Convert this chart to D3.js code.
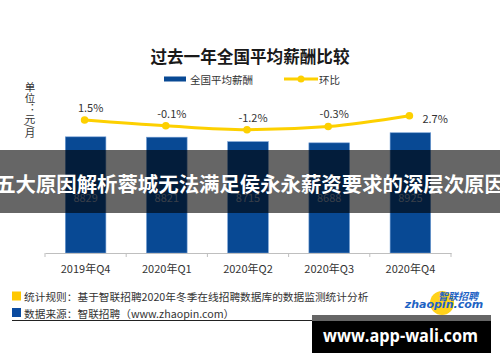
<!DOCTYPE html>
<html>
<head>
<meta charset="utf-8">
<script src="https://cdn.jsdelivr.net/npm/d3@7"></script>
<style>
  body { margin: 0; background: #fff; }
  text { font-family: "Noto Sans CJK SC", "Noto Sans", sans-serif; }
</style>
</head>
<body>
<div id="chart"></div>
<script>
// 資料
const quarters = ['2019年Q4', '2020年Q1', '2020年Q2', '2020年Q3', '2020年Q4']
const salary = [8829, 8821, 8715, 8688, 8925]
const growth = [1.5, -0.1, -1.2, -0.3, 2.7]
const growthLabels = ['1.5%', '-0.1%', '-1.2%', '-0.3%', '2.7%']

function drawChart(){
        const width = 500, height = 362
        const blue = '#084994', yellow = '#fdd000'

        const svg = d3.select('#chart')
                        .append('svg')
                        .attr('width', width)
                        .attr('height', height)

        // 標題
        svg.append('text')
                .attr('x', 250).attr('y', 56)
                .attr('text-anchor', 'middle')
                .attr('dominant-baseline', 'central')
                .style('font-size', '16.6px')
                .style('font-weight', 'bold')
                .attr('fill', '#1a1a1a')
                .text('过去一年全国平均薪酬比较')

        // 圖例
        svg.append('rect').attr('x', 164).attr('y', 76.5).attr('width', 22).attr('height', 5).attr('fill', blue)
        svg.append('text').attr('x', 190).attr('y', 79).attr('dominant-baseline', 'central')
                .style('font-size', '10.5px').attr('fill', '#333').text('全国平均薪酬')
        svg.append('line').attr('x1', 284).attr('x2', 318).attr('y1', 79).attr('y2', 79)
                .attr('stroke', yellow).attr('stroke-width', 3)
        svg.append('circle').attr('cx', 301).attr('cy', 79).attr('r', 3.5).attr('fill', yellow)
        svg.append('text').attr('x', 319).attr('y', 79).attr('dominant-baseline', 'central')
                .style('font-size', '10.5px').attr('fill', '#333').text('环比')

        // 單位
        svg.append('text')
                .attr('x', 30).attr('y', 82)
                .style('writing-mode', 'vertical-rl')
                .style('font-size', '10.5px')
                .attr('fill', '#333')
                .text('单位：元/月')

        // X 軸
        const xScale = d3.scaleBand()
                        .domain(quarters)
                        .range([45, 451])
                        .paddingInner(0.5)
                        .paddingOuter(0.25)

        // Y 軸 (不從 0 開始)
        const yScale = d3.scaleLinear()
                        .domain([6100, 10000])
                        .range([253, 87])

        // 環比用的 Y 軸
        const y2Scale = d3.scaleLinear()
                        .domain([-5, 5])
                        .range([143.4, 107.4])

        // 柱狀圖
        svg.selectAll('.bar')
                .data(salary)
                .join('rect')
                .attr('class', 'bar')
                .attr('x', (d, i) => xScale(quarters[i]))
                .attr('y', d => yScale(d))
                .attr('width', xScale.bandwidth())
                .attr('height', d => yScale.range()[0] - yScale(d))
                .attr('fill', blue)
                .attr('stroke', '#6f9bd3')
                .attr('stroke-width', 0.6)

        svg.selectAll('.barLabel')
                .data(salary)
                .join('text')
                .attr('class', 'barLabel')
                .attr('x', (d, i) => xScale(quarters[i]) + xScale.bandwidth() / 2)
                .attr('y', 197)
                .attr('text-anchor', 'middle')
                .attr('dominant-baseline', 'central')
                .style('font-size', '11px')
                .attr('fill', '#8d9cb4')
                .text(d => d)

        const xAxis = d3.axisBottom(d3.scaleBand().domain(quarters).range([45, 451]))
                        .tickSize(0)
                        .tickPadding(12)
        const xAxisGroup = svg.append('g')
                                .attr('transform', 'translate(0,253)')
                                .call(xAxis)
        xAxisGroup.select('.domain').attr('stroke', '#bfbfbf')
        xAxisGroup.selectAll('text').style('font-size', '11px').attr('fill', '#333')
        // 分隔刻度
        const bounds = d3.range(quarters.length + 1).map(i => 45 + i * (451 - 45) / quarters.length)
        xAxisGroup.selectAll('.sep')
                .data(bounds)
                .join('line')
                .attr('class', 'sep')
                .attr('x1', d => d).attr('x2', d => d)
                .attr('y1', 0).attr('y2', 4)
                .attr('stroke', '#bfbfbf')

        // 折線
        const cx = (d, i) => xScale(quarters[i]) + xScale.bandwidth() / 2 - 1
        const line = d3.line()
                        .x(cx)
                        .y(d => y2Scale(d))
                        .curve(d3.curveMonotoneX)
        svg.append('path')
                .datum(growth)
                .attr('fill', 'none')
                .attr('stroke', yellow)
                .attr('stroke-width', 3)
                .attr('d', line)
        svg.selectAll('.dot')
                .data(growth)
                .join('circle')
                .attr('class', 'dot')
                .attr('cx', cx)
                .attr('cy', d => y2Scale(d))
                .attr('r', 3.8)
                .attr('fill', yellow)

        svg.selectAll('.pctLabel')
                .data(growth)
                .join('text')
                .attr('class', 'pctLabel')
                .attr('x', (d, i) => i === growth.length - 1 ? cx(d, i) + 13 : cx(d, i) + 6)
                .attr('y', (d, i) => i === growth.length - 1 ? y2Scale(d) + 2 : y2Scale(d) - 13)
                .attr('text-anchor', (d, i) => i === growth.length - 1 ? 'start' : 'middle')
                .attr('dominant-baseline', 'central')
                .style('font-size', '11px')
                .attr('fill', '#333')
                .text((d, i) => growthLabels[i])

        // 註腳
        svg.append('rect').attr('x', 12).attr('y', 291.5).attr('width', 9).attr('height', 9).attr('fill', '#ffc800')
        svg.append('text').attr('x', 24).attr('y', 296.5).attr('dominant-baseline', 'central')
                .style('font-size', '10.7px').attr('fill', '#333')
                .text('统计规则：基于智联招聘2020年冬季在线招聘数据库的数据监测统计分析')
        svg.append('rect').attr('x', 12).attr('y', 308).attr('width', 9).attr('height', 9).attr('fill', '#0a4aa0')
        svg.append('text').attr('x', 24).attr('y', 313).attr('dominant-baseline', 'central')
                .style('font-size', '10.7px').attr('fill', '#333')
                .text('数据来源：智联招聘（www.zhaopin.com）')
        svg.append('line').attr('x1', 12).attr('x2', 312).attr('y1', 320.5).attr('y2', 320.5)
                .attr('stroke', '#222').attr('stroke-width', 1)

        // logo
        svg.append('circle').attr('cx', 442).attr('cy', 303).attr('r', 12).attr('fill', '#ffd21a')
        svg.append('text').attr('x', 458).attr('y', 295).attr('text-anchor', 'middle')
                .attr('dominant-baseline', 'central')
                .style('font-size', '10px').style('font-weight', 'bold').style('font-style', 'italic')
                .attr('fill', '#1e63c4').text('智联招聘')
        svg.append('text').attr('x', 444).attr('y', 304).attr('text-anchor', 'middle')
                .attr('dominant-baseline', 'central')
                .style('font-family', '"DejaVu Sans", sans-serif')
                .style('font-size', '11px').style('font-weight', 'bold').style('font-style', 'italic')
                .attr('fill', '#1e63c4').text('zhaopin.com')

        // 浮水印橫條
        svg.append('rect').attr('x', 0).attr('y', 150).attr('width', width).attr('height', 63)
                .attr('fill', '#000').attr('opacity', 0.6)
        svg.append('text')
                .attr('x', 250).attr('y', 183)
                .attr('text-anchor', 'middle')
                .attr('dominant-baseline', 'central')
                .style('font-size', '20.4px')
                .style('font-weight', 'bold')
                .attr('fill', '#fff')
                .text('五大原因解析蓉城无法满足侯永永薪资要求的深层次原因')

        // 網址框
        svg.append('rect').attr('x', 312).attr('y', 315).attr('width', 179).attr('height', 38).attr('fill', '#000')
        svg.append('rect').attr('x', 312).attr('y', 315).attr('width', 179).attr('height', 6).attr('fill', '#666')
        svg.append('text')
                .attr('x', 323).attr('y', 342)
                .style('font-family', '"Open Sans", sans-serif')
                .style('font-size', '17px')
                .style('font-weight', 'bold')
                .attr('fill', '#fff')
                .attr('textLength', 155)
                .attr('lengthAdjust', 'spacingAndGlyphs')
                .text('www.app-wali.com')
}
drawChart()
</script>
</body>
</html>
